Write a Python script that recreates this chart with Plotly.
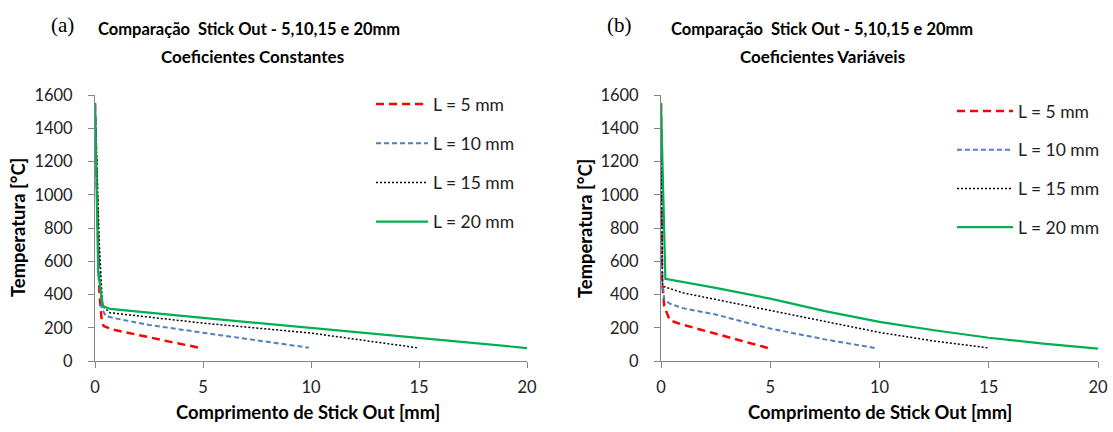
import plotly.graph_objects as go

# ---- data (a) constant coefficients ----
xa5 = [0, 0.1, 0.2, 0.3, 0.4, 0.8, 1.5, 2.5, 3.5, 4.9]
ya5 = [1550, 900, 420, 260, 210, 190, 170, 145, 115, 78]
xa10 = [0, 0.15, 0.3, 0.5, 1, 2.5, 5, 7.5, 9.9]
ya10 = [1550, 700, 320, 270, 255, 217, 170, 125, 80]
xa15 = [0, 0.2, 0.35, 0.7, 5, 10, 12.5, 14.9]
ya15 = [1550, 700, 330, 290, 228, 168, 123, 80]
xa20 = [0, 0.15, 0.37, 0.7, 5, 10, 15, 20]
ya20 = [1550, 530, 330, 313, 259, 199, 138, 78]

# ---- data (b) variable coefficients ----
xb5 = [0, 0.05, 0.15, 0.4, 1, 2.5, 3.75, 4.9]
yb5 = [1550, 480, 330, 245, 218, 165, 120, 78]
xb10 = [0, 0.05, 0.15, 0.4, 1, 2.5, 4, 5, 7.5, 9.8]
yb10 = [1550, 490, 370, 345, 318, 280, 228, 195, 130, 78]
xb15 = [0, 0.07, 1, 2.5, 5, 7.5, 10, 12.5, 15]
yb15 = [1550, 450, 410, 370, 305, 235, 172, 120, 78]
xb20 = [0, 0.2, 2.5, 5, 7.5, 10, 12.5, 15, 17.5, 20]
yb20 = [1550, 495, 440, 375, 300, 235, 185, 140, 105, 75]

names = ["L = 5 mm", "L = 10 mm", "L = 15 mm", "L = 20 mm"]
x_ticks = [0, 5, 10, 15, 20]
y_ticks = [0, 200, 400, 600, 800, 1000, 1200, 1400, 1600]

styles = [
    dict(color="#FF0000", width=2.5, dash="8px,5px"),
    dict(color="#4F81BD", width=2, dash="5px,3px"),
    dict(color="#000000", width=1.5, dash="2px,2px"),
    dict(color="#00B050", width=2.2, dash="solid"),
]

FONT = "Lato"
W, H = 1113, 432

fig = go.Figure()
series_a = [(xa5, ya5), (xa10, ya10), (xa15, ya15), (xa20, ya20)]
series_b = [(xb5, yb5), (xb10, yb10), (xb15, yb15), (xb20, yb20)]
for i, (x, y) in enumerate(series_a):
    fig.add_trace(go.Scatter(x=x, y=y, mode="lines", name=names[i], line=styles[i],
                             xaxis="x", yaxis="y", legend="legend", legendgroup=f"a{i}"))
for i, (x, y) in enumerate(series_b):
    fig.add_trace(go.Scatter(x=x, y=y, mode="lines", name=names[i], line=styles[i],
                             xaxis="x2", yaxis="y2", legend="legend2", legendgroup=f"b{i}"))

def px(v):
    return v / W

def py(v):
    return 1 - v / H

axis_common = dict(showgrid=False, zeroline=False, showline=True, linecolor="#868686",
                   linewidth=1, ticks="outside", ticklen=6, tickcolor="#868686",
                   automargin=False,
                   tickfont=dict(family=FONT, size=16.5, color="#222"))

fig.update_layout(
    width=W, height=H, margin=dict(l=0, r=0, t=0, b=0),
    paper_bgcolor="white", plot_bgcolor="white",
    xaxis=dict(domain=[px(95), px(527)], range=[0, 20], tickvals=x_ticks, anchor="y",
               ticklabelstandoff=5, **axis_common),
    yaxis=dict(domain=[py(361), py(95)], range=[0, 1600], tickvals=y_ticks, anchor="x",
               ticklabelstandoff=12, **axis_common),
    xaxis2=dict(domain=[px(661), px(1098)], range=[0, 20], tickvals=x_ticks, anchor="y2",
                ticklabelstandoff=5, **axis_common),
    yaxis2=dict(domain=[py(361), py(95)], range=[0, 1600], tickvals=y_ticks, anchor="x2",
                ticklabelstandoff=12, **axis_common),
    legend=dict(x=px(371), y=py(86), xanchor="left", yanchor="top", tracegroupgap=13.5,
                font=dict(family=FONT, size=17.5, color="#222"), itemwidth=52,
                bgcolor="rgba(0,0,0,0)"),
    legend2=dict(x=px(952), y=py(93), xanchor="left", yanchor="top", tracegroupgap=13,
                 font=dict(family=FONT, size=17.5, color="#222"), itemwidth=56,
                 bgcolor="rgba(0,0,0,0)"),
    showlegend=True,
)

ann = []
def add_text(text, x, y, size, bold=True, family=FONT, angle=0):
    ann.append(dict(text=(f"<b>{text}</b>" if bold else text), x=px(x), y=py(y),
                    xref="paper", yref="paper", xanchor="center", yanchor="middle",
                    showarrow=False, textangle=angle,
                    font=dict(family=family, size=size, color="#000")))

add_text("(a)", 62, 25, 21, bold=False, family="Liberation Serif")
add_text("Comparação  Stick Out - 5,10,15 e 20mm", 249, 29, 16.5)
add_text("Coeficientes Constantes", 252, 57, 17)
add_text("(b)", 619, 25, 21, bold=False, family="Liberation Serif")
add_text("Comparação  Stick Out - 5,10,15 e 20mm", 822, 29, 16.5)
add_text("Coeficientes Variáveis", 822, 57, 17)
add_text("Comprimento de Stick Out [mm]", 308, 412, 18.4)
add_text("Comprimento de Stick Out [mm]", 880, 412, 18.4)
add_text("Temperatura [°C]", 18, 228, 18.4, angle=-90)
add_text("Temperatura [°C]", 585, 228, 18.4, angle=-90)
fig.update_layout(annotations=ann)

fig.write_html("out.html", config={"displayModeBar": False},
               post_script="document.body.style.margin='0';document.body.style.padding='0';")
